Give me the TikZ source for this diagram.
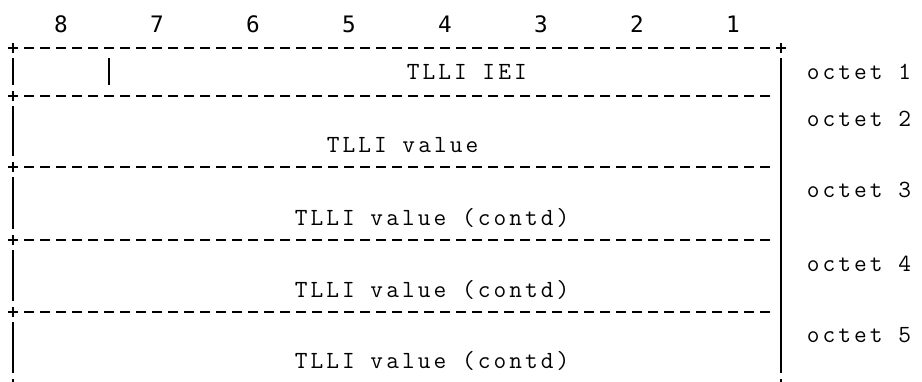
\documentclass[tikz,border=0pt]{standalone}
\usepackage{fontspec}
\newfontfamily\digfont{DejaVu Sans Mono}
\newfontfamily\octfont{Latin Modern Mono}[LetterSpace=12.4]
\tikzset{
    octtext/.style={font=\fontsize{18.5}{20}\octfont, inner sep=0pt, anchor=base west},
    bitnum/.style={font=\fontsize{17}{20}\digfont, inner sep=0pt, anchor=base},
    dashline/.style={line width=1pt, dash pattern=on 7.125pt off 4.875pt},
    plusline/.style={line width=1.1pt},
    barline/.style={line width=0.8pt}
}
\begin{document}
\begin{tikzpicture}[x=0.75pt, y=-0.75pt]
                \useasboundingbox (0,0) rectangle (922,382);
                \clip (0,0) rectangle (922,382);
                % Bit numbers
                \foreach \n [count=\i from 0] in {8,7,6,5,4,3,2,1}
                    \node[bitnum] (bit\n) at (61+96*\i,32) {\n};
                % Borders with plus corners
                \foreach \y in {48,96,167,240,312,384} {
                    \draw[dashline] (24.25,\y) -- (769.75,\y);
                    \draw[plusline] (8,\y) -- (18,\y) (13,\y-5) -- (13,\y+5);
                }
                \draw[plusline] (776,48) -- (786,48) (781,43) -- (781,53);
                \draw[plusline] (776,384) -- (786,384) (781,379) -- (781,389);
                % Left bars between borders
                \foreach \a/\b in {48/96, 96/167, 167/240, 240/312, 312/384}
                    \draw[barline] (13,\a+10) -- (13,\b-11);
                \draw[barline] (109,58) -- (109,85);
                % Right bar
                \draw[barline] (781,58) -- (781,373);
                % Field texts
                \node[octtext] (iei) at (406.5,79) {TLLI IEI};
                \node[octtext] (val) at (326.5,152) {TLLI value};
                \node[octtext] (valc1) at (294.5,225) {TLLI value (contd)};
                \node[octtext] (valc2) at (294.5,297) {TLLI value (contd)};
                \node[octtext] (valc3) at (294.5,368) {TLLI value (contd)};
                % Octet labels
                \foreach \k/\y in {1/79, 2/126, 3/197, 4/271, 5/342}
                    \node[octtext] (oct\k) at (806.5,\y) {octet \k};
\end{tikzpicture}
\end{document}
